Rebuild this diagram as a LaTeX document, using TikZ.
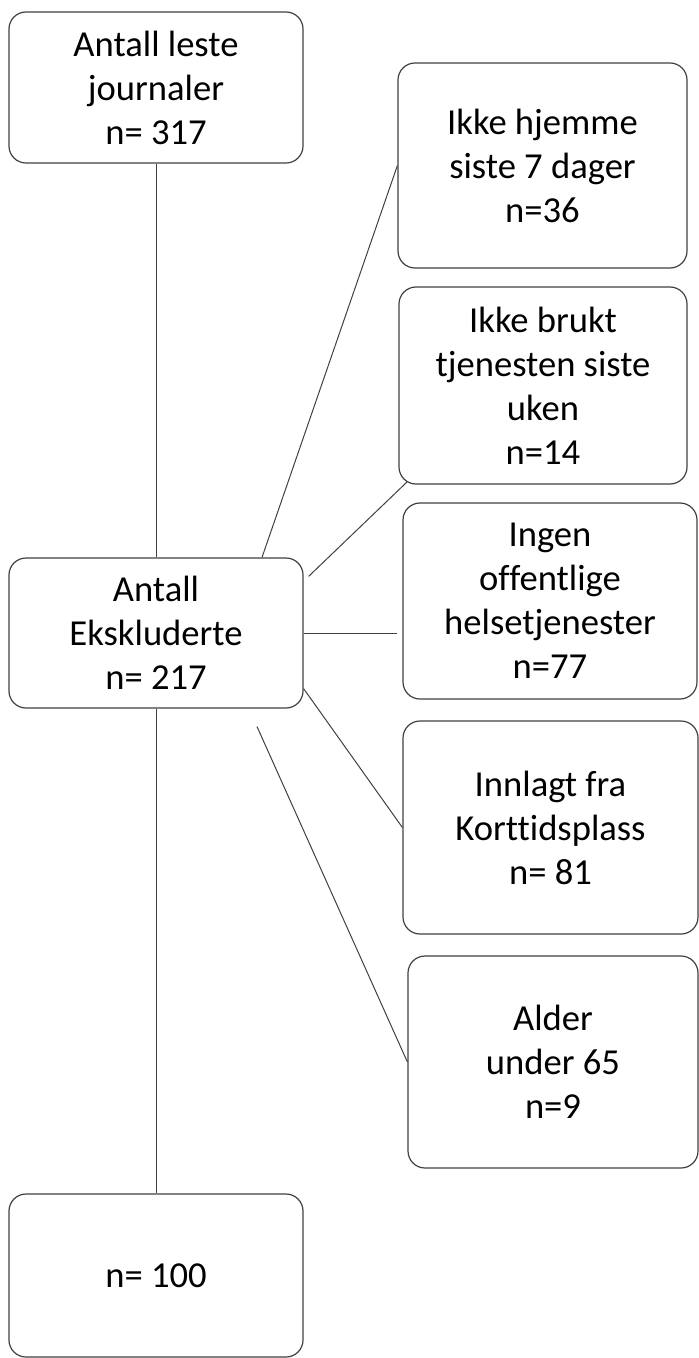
\documentclass[tikz,border=0pt]{standalone}
\usepackage{fontspec}
\setmainfont{Carlito}[Ligatures=NoCommon]
\definecolor{linegray}{HTML}{404040}
\begin{document}
\begin{tikzpicture}[x=0.5pt, y=-0.5pt, box style/.style={draw=linegray, line width=0.6pt, rectangle, rounded corners=8.5pt, align=center, inner sep=0pt, font=\fontsize{18.3}{22}\selectfont}, left style/.style={minimum width=147pt}, line style/.style={draw=linegray, line width=0.5pt}]
	\useasboundingbox (0,0) rectangle (699,1358);
	\node[box style, left style, minimum height=75.5pt] (Leste) at (156, 87.5) {Antall leste\\journaler\\n= 317};
	\node[box style, left style, minimum height=75pt] (Ekskl) at (156, 633) {Antall\\Ekskluderte\\n= 217};
	\node[box style, left style, minimum height=81.5pt] (Rest) at (156, 1275.5) {n= 100};
	\node[box style, minimum width=144.5pt, minimum height=102.5pt] (Hjemme) at (542.5, 165.5) {Ikke hjemme\\siste 7 dager\\n=36};
	\node[box style, minimum width=144pt, minimum height=98.5pt] (Brukt) at (543, 385.5) {Ikke brukt\\tjenesten siste\\uken\\n=14};
	\node[box style, minimum width=147pt, minimum height=98pt] (Offentlig) at (550, 601) {Ingen\\offentlige\\helsetjenester\\n=77};
	\node[box style, minimum width=147.5pt, minimum height=106.5pt] (Korttid) at (550.5, 827.5) {Innlagt fra\\Korttidsplass\\n= 81};
	\node[box style, minimum width=145pt, minimum height=106pt] (Alder) at (553, 1062) {Alder\\under 65\\n=9};
	\draw[line style] (Leste) -- (Ekskl);
	\draw[line style] (Ekskl) -- (Rest);
	\draw[line style] ([xshift=53pt]Ekskl.north) -- (Hjemme.west);
	\draw[line style] ([xshift=2.5pt, yshift=-9.5pt]Ekskl.north east) -- ([xshift=4.5pt, yshift=1.5pt]Brukt.south west);
	\draw[line style] (Ekskl.east) -- ([xshift=-2.5pt]Ekskl.east -| Offentlig.west);
	\draw[line style] ([yshift=10pt]Ekskl.south east) -- (Korttid.west);
	\draw[line style] ([xshift=50.5pt, yshift=-9pt]Ekskl.south) -- (Alder.west);
\end{tikzpicture}
\end{document}
